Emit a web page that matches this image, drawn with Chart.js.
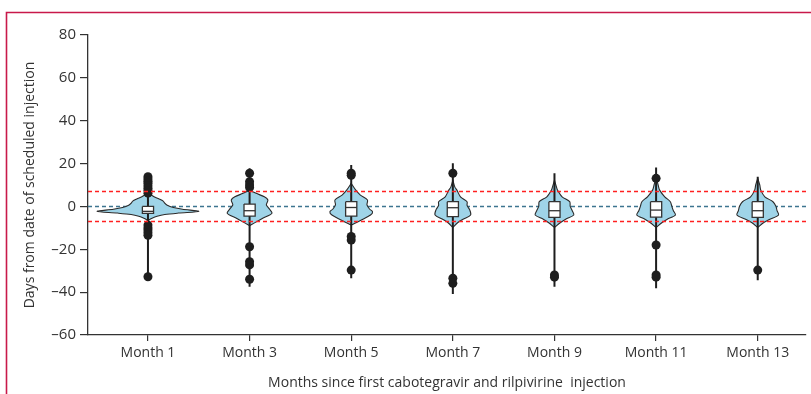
<!DOCTYPE html>
<html>
<head>
<meta charset="utf-8">
<script src="https://cdn.jsdelivr.net/npm/chart.js@4.4.1/dist/chart.umd.min.js"></script>
<style>
  html, body { margin: 0; padding: 0; background: #fff; }
  canvas { display: block; }
</style>
</head>
<body>
<canvas id="violinChart" width="811" height="394"></canvas>
<script>
// ---- data ----
const categories = ['Month 1', 'Month 3', 'Month 5', 'Month 7', 'Month 9', 'Month 11', 'Month 13'];
const months = [1, 3, 5, 7, 9, 11, 13];
const yTicks = [-60, -40, -20, 0, 20, 40, 60, 80];

// violin outlines, top to bottom: day offset and relative density
const violinDays = [
  [6.3, 5.5, 4.5, 3.5, 2.5, 1.5, 0.5, -0.5, -1.3, -2.3, -3.1, -3.8, -4.6, -5.5, -6.5],
  [7.6, 6.1, 4.5, 3.0, 0.7, -0.9, -3.2, -5.6, -7.9, -9.0],
  [10.8, 7.6, 5.3, 3.0, 0.7, -1.2, -2.5, -4.0, -6.3, -8.7],
  [12.3, 9, 7.6, 4.5, 2.2, 0.5, -1.5, -4.0, -6, -7.5, -9.8],
  [12.3, 9, 7.6, 4.5, 2.2, 0, -2, -4, -6, -7.5, -9.8],
  [13.9, 10, 7.6, 4.5, 2.2, 0, -2, -4, -6, -7.5, -9.8],
  [13.1, 10, 7.6, 4.5, 2.2, 0, -2, -4, -6, -7.5, -9.8]
];
const violinDensity = [
  [0, 0.05, 0.12, 0.22, 0.3, 0.33, 0.38, 0.5, 0.68, 1.0, 0.6, 0.33, 0.18, 0.08, 0],
  [0, 0.13, 0.29, 0.36, 0.33, 0.38, 0.44, 0.25, 0.08, 0],
  [0, 0.09, 0.18, 0.32, 0.31, 0.36, 0.42, 0.38, 0.2, 0],
  [0, 0.04, 0.08, 0.15, 0.28, 0.28, 0.33, 0.35, 0.2, 0.1, 0],
  [0, 0.04, 0.06, 0.15, 0.3, 0.31, 0.35, 0.38, 0.22, 0.12, 0],
  [0, 0.04, 0.07, 0.17, 0.28, 0.31, 0.34, 0.38, 0.22, 0.12, 0],
  [0, 0.04, 0.06, 0.14, 0.3, 0.36, 0.38, 0.41, 0.24, 0.12, 0]
];

const q1 = [-3.2, -4.5, -4.5, -4.8, -5.1, -5.0, -5.1];
const median = [-2.3, -2, -0.5, -0.6, -2, -1.7, -2];
const q3 = [0, 1.1, 2.2, 2.2, 2.2, 2.2, 2.2];
const whiskerMin = [-32.8, -37.5, -33.5, -40.9, -37.5, -38.2, -34.4];
const whiskerMax = [13.9, 17.8, 19.3, 20.1, 15.5, 18.2, 13.9];
const outliers = [
  [13.9, 12.8, 11.8, 10.8, 9.6, 8.5, 7.4, 6.2, -8.7, -10, -11, -12.3, -13.5, -32.8],
  [15.5, 11.5, 10, 8.8, -18.8, -25.8, -27.3, -34],
  [15.5, 14.5, -14, -15.7, -29.7],
  [15.5, -33.5, -35.9],
  [-32, -33],
  [13.1, -18, -32, -33],
  [-29.7]
];
const limitLines = [-7, 7];
const targetLine = 0;

// ---- styles ----
const X_MIN = -0.18, X_MAX = 13.95;
const VIOLIN_SCALE = 1.0;   // months of half-width per density unit
const BOX_HALF = 0.11;
const INK = '#1e1e1e';
const TEXT = '#333333';
const FONT = 'Open Sans';

const datasets = [];

datasets.push({
  type: 'line', data: [{x: X_MIN, y: targetLine}, {x: X_MAX, y: targetLine}],
  borderColor: '#3d7590', borderWidth: 1.4, borderDash: [4, 3], pointRadius: 0, order: 20
});

months.forEach(function(m, i) {
  const days = violinDays[i], dens = violinDensity[i];
  const outline = [];
  for (let k = 0; k < days.length; k++) outline.push({x: m + dens[k] * VIOLIN_SCALE, y: days[k]});
  for (let k = days.length - 1; k >= 0; k--) outline.push({x: m - dens[k] * VIOLIN_SCALE, y: days[k]});
  datasets.push({
    type: 'line', data: outline, fill: 'shape', backgroundColor: '#9fd4e8',
    borderColor: '#2a2a2a', borderWidth: 1.1, tension: 0.3, pointRadius: 0, order: 15
  });
  datasets.push({
    type: 'line', data: [{x: m, y: whiskerMax[i]}, {x: m, y: whiskerMin[i]}],
    borderColor: INK, borderWidth: 2, pointRadius: 0, order: 12
  });
  datasets.push({
    type: 'scatter', data: outliers[i].map(v => ({x: m, y: v})),
    backgroundColor: INK, borderWidth: 0, pointRadius: 4.5, order: 11
  });
  datasets.push({
    type: 'line',
    data: [{x: m - BOX_HALF, y: q3[i]}, {x: m + BOX_HALF, y: q3[i]}, {x: m + BOX_HALF, y: q1[i]},
           {x: m - BOX_HALF, y: q1[i]}, {x: m - BOX_HALF, y: q3[i]}],
    fill: 'shape', backgroundColor: '#ffffff', borderColor: '#333', borderWidth: 1.3,
    pointRadius: 0, order: 5
  });
  datasets.push({
    type: 'line', data: [{x: m - BOX_HALF, y: median[i]}, {x: m + BOX_HALF, y: median[i]}],
    borderColor: '#333', borderWidth: 1.3, pointRadius: 0, order: 4
  });
});

limitLines.forEach(function(v) {
  datasets.push({
    type: 'line', data: [{x: X_MIN, y: v}, {x: X_MAX, y: v}],
    borderColor: '#ff2020', borderWidth: 1.5, borderDash: [4, 3], pointRadius: 0, order: 8
  });
});

// page frame like the journal panel
const framePlugin = {
  id: 'frame',
  beforeDraw(chart) {
    const c = chart.ctx;
    c.save();
    c.strokeStyle = '#c8194a';
    c.lineWidth = 1.6;
    c.beginPath();
    c.moveTo(6.5, chart.height);
    c.lineTo(6.5, 12.5);
    c.lineTo(chart.width, 12.5);
    c.stroke();
    c.restore();
  }
};

const ctx = document.getElementById('violinChart').getContext('2d');
const chart = new Chart(ctx, {
  type: 'scatter',
  data: { datasets: datasets },
  plugins: [framePlugin],
  options: {
    responsive: false,
    animation: false,
    layout: { padding: { top: 35, right: 5, left: 0, bottom: 0 } },
    plugins: { legend: { display: false }, tooltip: { enabled: false } },
    scales: {
      x: {
        type: 'linear', min: X_MIN, max: X_MAX,
        afterBuildTicks: s => { s.ticks = months.map(v => ({value: v})); },
        afterFit: s => { s.height = 59; },
        ticks: {
          callback: v => categories[months.indexOf(v)],
          color: TEXT, font: {family: FONT, size: 14}, padding: 4, maxRotation: 0, autoSkip: false
        },
        grid: { drawOnChartArea: false, drawTicks: true, tickLength: 6, color: '#333', lineWidth: 1.2 },
        border: { display: true, color: '#333', width: 1.3 },
        title: {
          display: true, text: 'Months since first cabotegravir and rilpivirine  injection',
          color: TEXT, font: {family: FONT, size: 14}, padding: {top: 2, bottom: 3}
        }
      },
      y: {
        type: 'linear', min: -60, max: 80,
        afterBuildTicks: s => { s.ticks = yTicks.map(v => ({value: v})); },
        afterFit: s => { s.width = 88; },
        ticks: {
          callback: v => v < 0 ? '\u2013' + Math.abs(v) : String(v),
          color: TEXT, font: {family: FONT, size: 15}, padding: 4
        },
        grid: { drawOnChartArea: false, drawTicks: true, tickLength: 8, color: '#333', lineWidth: 1.2 },
        border: { display: true, color: '#333', width: 1.3 },
        title: {
          display: true, text: 'Days from date of scheduled injection',
          color: TEXT, font: {family: FONT, size: 14}, padding: {top: 22, bottom: 0}
        }
      }
    }
  }
});
</script>
</body>
</html>
